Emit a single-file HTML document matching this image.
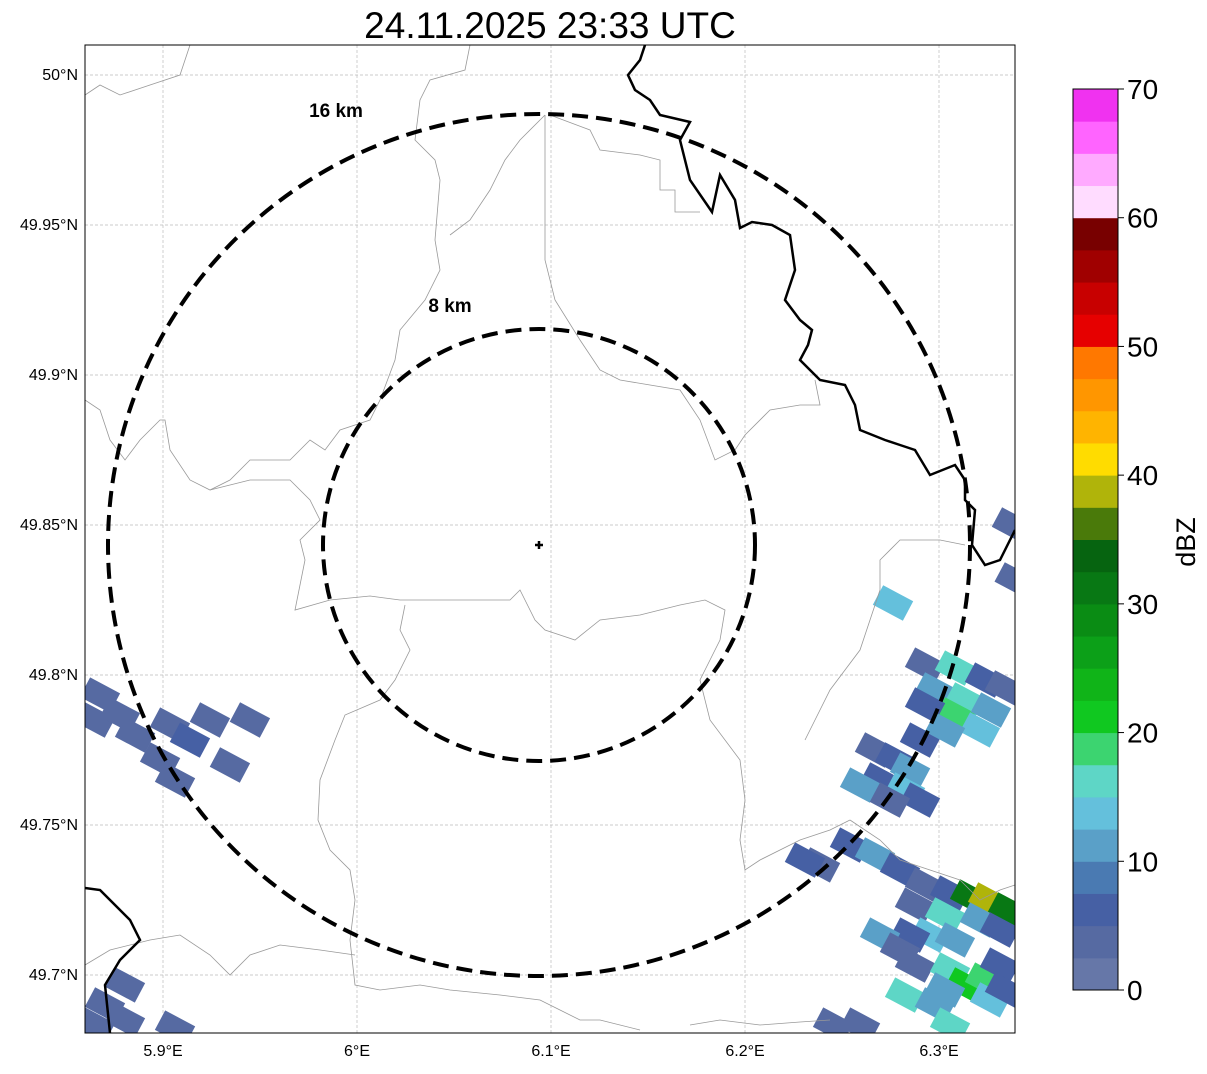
<!DOCTYPE html>
<html><head><meta charset="utf-8"><style>
body{margin:0;background:#fff;font-family:"Liberation Sans",sans-serif}
</style></head><body>
<svg width="1207" height="1069" viewBox="0 0 1207 1069" xmlns="http://www.w3.org/2000/svg">
<text x="550" y="38" font-size="37" text-anchor="middle" font-family="Liberation Sans">24.11.2025 23:33 UTC</text>
<defs><clipPath id="pc"><rect x="85" y="45" width="930" height="988"/></clipPath></defs>
<g id="grid"></g>
<g clip-path="url(#pc)">
<g id="cells"></g>
<g fill="none" stroke="#999" stroke-width="0.8">
<path d="M85,95 L100,85 L120,95 L150,85 L180,75 L190,45"/>
<path d="M470,45 L465,70 L430,80 L420,100 L415,140 L435,160 L440,180 L435,240 L440,270 L425,300 L400,330 L395,360 L380,400 L370,420 L340,430 L325,450 L310,440 L290,460 L250,460 L230,480 L210,490 L190,480 L170,450 L165,420 L160,420 L140,440 L125,460 L110,440 L100,410 L85,400"/>
<path d="M545,115 L545,200 L545,260 L555,300 L580,340 L600,370 L620,380 L650,385 L680,390 L700,420 L715,460 L735,450 L745,435 L770,410 L800,405 L820,405 L815,380"/>
<path d="M545,115 L520,140 L505,160 L490,190 L470,220 L450,235"/>
<path d="M550,115 L590,130 L600,150 L640,155 L660,160 L660,190 L675,190 L675,212 L700,212"/>
<path d="M210,490 L250,480 L290,480 L310,500 L320,520 L300,540 L305,560 L295,610 L330,600 L370,596 L400,600 L420,600 L450,600 L480,600 L510,600 L520,590 L535,620 L545,630 L575,640 L600,620 L640,615 L680,605 L705,600 L725,610 L720,640 L700,680 L710,720 L740,760 L745,800 L740,840 L745,870 L760,860 L800,840 L830,830 L850,820"/>
<path d="M405,605 L400,630 L410,650 L395,680 L380,700 L345,715 L335,740 L320,780 L318,820 L330,850 L350,870 L355,900 L350,940 L355,985 L380,990 L420,985 L450,990 L500,995 L540,1000 L560,1010 L580,1020 L600,1020 L640,1030"/>
<path d="M965,545 L940,540 L900,540 L880,560 L880,590 L870,620 L860,650 L845,670 L830,690 L815,720 L805,740"/>
<path d="M85,965 L110,950 L150,940 L180,935 L210,955 L230,975 L250,955 L280,945 L320,950 L355,955"/>
<path d="M850,820 L880,840 L900,860 L930,870 L960,880 L980,900 L1000,890 L1015,885"/>
<path d="M690,1025 L720,1020 L760,1025 L800,1022 L830,1020"/>
</g>
<g fill="none" stroke="#000" stroke-width="2.5">
<path d="M645,45 L640,60 L628,75 L635,90 L650,100 L660,115 L690,122 L680,140 L690,180 L712,212 L720,175 L735,200 L740,228 L752,222 L772,225 L790,235 L795,270 L785,300 L800,320 L812,330 L808,345 L800,360 L820,380 L845,385 L855,405 L860,430 L885,440 L900,445 L915,450 L930,475 L955,465 L965,480 L965,500 L975,510 L972,545 L985,565 L1000,560 L1015,530"/>
<path d="M85,888 L100,890 L130,920 L140,940 L120,960 L105,985 L110,1033"/>
</g>
<g fill="none" stroke="#000" stroke-width="4" stroke-dasharray="16,8">
<circle cx="539" cy="545" r="431"/>
<circle cx="539" cy="545" r="216"/>
</g>
<path d="M535,545 H543 M539,541 V549" stroke="#000" stroke-width="2.5"/>
</g>
<text x="336" y="117" font-size="19" font-weight="bold" text-anchor="middle">16 km</text>
<text x="450" y="312" font-size="19" font-weight="bold" text-anchor="middle">8 km</text>
<rect x="85" y="45" width="930" height="988" fill="none" stroke="#000" stroke-width="1"/>
<g id="cbar"></g>
<text x="1195" y="542" font-size="27" text-anchor="middle" transform="rotate(-90 1195 542)">dBZ</text>
<g id="labels"></g>
</svg>
<script>
const lonTicks=[5.9,6.0,6.1,6.2,6.3];
const lonLabels=["5.9°E","6°E","6.1°E","6.2°E","6.3°E"];
const latTicks=[50.0,49.95,49.9,49.85,49.8,49.75,49.7];
const latLabels=["50°N","49.95°N","49.9°N","49.85°N","49.8°N","49.75°N","49.7°N"];
const cbTicks=[0,10,20,30,40,50,60,70];
const cbColors=["#6677a8","#566aa2","#4660a4","#4a7ab2","#5aa0c8","#64c0dc","#5ed6c6","#3cd470","#10c820","#10b418","#0ca018","#0a8c14","#087814","#066410","#4a7a0a","#b0b40a","#ffdc00","#ffb400","#ff9600","#ff7800","#e60000","#c80000","#a00000","#780000","#ffdcff","#ffaaff","#ff64ff","#f032f0"];
const cellLon=[6.2928,6.3082,6.3237,6.3340,6.2979,6.3134,6.3082,6.2928,6.3268,6.2902,6.3211,6.3031,6.2670,6.2773,6.2851,6.2696,6.2825,6.2902,6.2593,6.2747,6.2763,6.2387,6.2309,6.2541,6.2670,6.2799,6.2928,6.3057,6.3160,6.3253,6.3356,6.2876,6.3031,6.3211,6.3314,6.2954,6.3082,6.2851,6.2696,6.2799,6.2876,6.3057,6.3134,6.3031,6.3237,6.3314,6.2825,6.2979,6.3263,6.3340,6.3057,6.2454,6.2593,5.8649,5.8778,5.8856,5.8985,5.9062,5.9036,5.9242,5.9448,5.8675,5.9345,5.9139,5.8701,5.8804,5.9062,5.8649,5.8804,6.3376,6.3390];
const cellLat=[49.8033,49.8023,49.7983,49.7957,49.7950,49.7917,49.7867,49.7900,49.7883,49.7783,49.7817,49.7817,49.7750,49.7717,49.7683,49.7650,49.7617,49.7583,49.7633,49.7583,49.8240,49.7367,49.7383,49.7433,49.7400,49.7350,49.7300,49.7273,49.7260,49.7250,49.7217,49.7233,49.7200,49.7183,49.7150,49.7133,49.7117,49.7133,49.7133,49.7083,49.7033,49.7017,49.6967,49.6950,49.6983,49.7033,49.6933,49.6900,49.6917,49.6950,49.6833,49.6833,49.6833,49.7850,49.7867,49.7800,49.7717,49.7650,49.7833,49.7850,49.7850,49.7933,49.7700,49.7783,49.6900,49.6850,49.6823,49.6833,49.6967,49.8500,49.8317];
const cellDbz=[3,15,5,3,12,15,18,5,12,5,13,10,3,5,12,5,13,5,10,3,14,3,5,5,10,5,3,5,30,38,30,3,15,10,5,13,10,5,12,3,3,15,20,12,18,5,15,10,13,5,15,3,3,3,3,3,3,3,3,3,3,3,3,5,3,3,3,3,3,3,3];
const NS="http://www.w3.org/2000/svg";
const xOf=lon=>357+(lon-6)*1940;
const yOf=lat=>525-(lat-49.85)*3000;
const cbY=v=>990-v/70*901;
const colorOf=d=>cbColors[Math.min(27,Math.max(0,Math.floor(d/2.5)))];
function mk(t,a){const e=document.createElementNS(NS,t);for(const k in a)e.setAttribute(k,a[k]);return e;}
const grid=document.getElementById('grid'),labels=document.getElementById('labels');
lonTicks.forEach((v,i)=>{const x=xOf(v);
const l=mk('line',{x1:x,x2:x,y1:45,y2:1033,stroke:'#bbb','stroke-width':0.7,'stroke-dasharray':'3,2'});

grid.appendChild(l);
const t=mk('text',{x:x,y:1056,'font-size':16,'text-anchor':'middle'});t.textContent=lonLabels[i];

labels.appendChild(t);});
latTicks.forEach((v,i)=>{const y=yOf(v);
const l=mk('line',{x1:85,x2:1015,y1:y,y2:y,stroke:'#bbb','stroke-width':0.7,'stroke-dasharray':'3,2'});

grid.appendChild(l);
const t=mk('text',{x:78,y:y+5,'font-size':16,'text-anchor':'end'});t.textContent=latLabels[i];

labels.appendChild(t);});
const cells=document.getElementById('cells');
cellLon.forEach((lon,i)=>{const x=xOf(lon),y=yOf(cellLat[i]);
const r=mk('rect',{x:x-17,y:y-11,width:34,height:22,fill:colorOf(cellDbz[i]),transform:`rotate(28 ${x} ${y})`});

cells.appendChild(r);});
const cb=document.getElementById('cbar');
cbColors.forEach((c,i)=>{const y1=cbY((i+1)*2.5),y0=cbY(i*2.5);
const r=mk('rect',{x:1073,y:y1,width:45,height:y0-y1+0.5,fill:c});

cb.appendChild(r);});
const fr=mk('rect',{x:1073,y:89,width:45,height:901,fill:'none',stroke:'#000','stroke-width':1});

cb.appendChild(fr);
cbTicks.forEach(v=>{const y=cbY(v);
const tk=mk('line',{x1:1118,x2:1124,y1:y,y2:y,stroke:'#000'});

cb.appendChild(tk);
const t=mk('text',{x:1127,y:y+10,'font-size':28});t.textContent=v;

cb.appendChild(t);});
</script>
</body></html>
